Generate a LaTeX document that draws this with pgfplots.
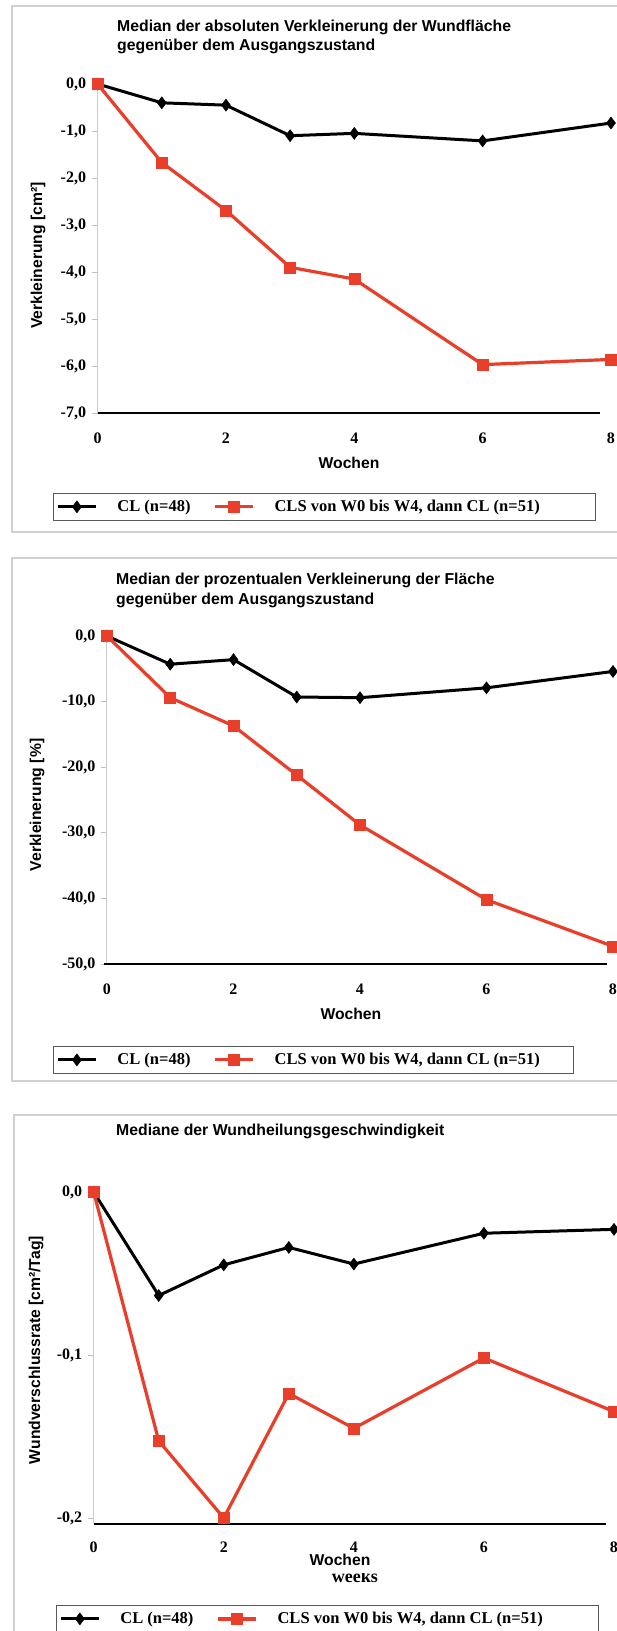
\documentclass[border=0pt]{standalone}
\usepackage{fontspec}
\setmainfont{Liberation Serif}
\newfontfamily\arialfont{Liberation Sans}
\usepackage{pgfplots}
\pgfplotsset{compat=1.18}
\definecolor{cred}{RGB}{232,62,42}
\definecolor{framegray}{RGB}{208,208,208}
\newcommand{\titlefont}{\arialfont\bfseries\fontsize{15.8}{19}\selectfont}

\pgfplotsset{
  panel/.style={
    scale only axis, clip=false,
    axis x line*=bottom, axis y line*=left,
    x axis line style={draw=none},
    y axis line style={draw=gray!40, line width=1pt, -},
    xmin=0, xmax=8, xtick={0,2,4,6,8}, xticklabels={0,2,4,6,8},
    xtick style={draw=none},
    ytick style={draw=gray!50, line width=0.8pt},
    tick align=outside, major tick length=6pt,
    ticklabel style={font=\bfseries\fontsize{16}{18}\selectfont},
    yticklabel style={xshift=-2pt},
    label style={font=\arialfont\bfseries\fontsize{15.7}{18}\selectfont},
    legend columns=2, legend cell align=left,
    legend style={draw=gray!70!black, line width=0.8pt, fill=white,
      inner xsep=3pt, inner ysep=7pt, nodes={inner sep=0pt},
      font=\bfseries\fontsize{16.5}{18}\selectfont,
      /tikz/every odd column/.append style={column sep=20pt}},
    legend image code/.code={\draw[mark repeat=2,mark phase=2,#1] plot coordinates {(0pt,0pt) (19pt,0pt) (38pt,0pt)};},
  },
  clline/.style={black, line width=3pt, mark=diamond*, mark size=6pt, mark options={solid, line width=0.5pt}},
  clsline/.style={cred, line width=3.2pt, mark=square*, mark size=5.5pt, mark options={solid, line width=0.5pt}},
}

\begin{document}
\begin{tikzpicture}
\useasboundingbox (0pt,0pt) rectangle (617pt,-1631pt);
\clip (0pt,0pt) rectangle (617pt,-1631pt);
\fill[white] (0pt,0pt) rectangle (617pt,-1631pt);

% panel frames
\draw[framegray, line width=1.5pt] (12pt,-6pt) rectangle (660pt,-532pt);
\draw[framegray, line width=1.5pt] (12pt,-558pt) rectangle (660pt,-1081pt);
\draw[framegray, line width=1.5pt] (14pt,-1115pt) rectangle (660pt,-1680pt);

% titles
\node[anchor=west, inner sep=0pt, font=\titlefont] at (117pt,-27pt) {Median der absoluten Verkleinerung der Wundfläche};
\node[anchor=west, inner sep=0pt, font=\titlefont] at (117pt,-46pt) {gegenüber dem Ausgangszustand};
\node[anchor=west, inner sep=0pt, font=\titlefont] at (116pt,-580.5pt) {Median der prozentualen Verkleinerung der Fläche};
\node[anchor=west, inner sep=0pt, font=\titlefont] at (116pt,-600pt) {gegenüber dem Ausgangszustand};
\node[anchor=west, inner sep=0pt, font=\titlefont] at (116pt,-1131pt) {Mediane der Wundheilungsgeschwindigkeit};

% ---------------- panel 1 ----------------
\begin{axis}[panel, at={(97.6pt,-413pt)}, anchor=south west,
  width=513.4pt, height=329pt, ymin=-7, ymax=0,
  ytick={-7,-6,-5,-4,-3,-2,-1,0},
  yticklabels={{-7,0},{-6,0},{-5,0},{-4,0},{-3,0},{-2,0},{-1,0},{0,0}},
  xticklabel style={yshift=-10pt},
  ylabel={Verkleinerung [cm²]},
  ylabel style={at={(axis description cs:-0.1161,0.4787)}, anchor=center},
  xlabel={Wochen},
  xlabel style={at={(axis description cs:0.4897,-0.151)}, anchor=center},
  legend style={at={(axis description cs:-0.0869,-0.243)}, anchor=north west},
]
\draw[black, line width=2.5pt] (axis cs:0,-7) -- (axis cs:7.83,-7);
\addplot[clline] coordinates {(0,0) (1,-0.40) (2,-0.45) (3,-1.10) (4,-1.05) (6,-1.21) (8,-0.83)};
\addlegendentry{\makebox[96pt][l]{CL (n=48)}}
\addplot[clsline] coordinates {(0,0) (1,-1.67) (2,-2.69) (3,-3.90) (4,-4.15) (6,-5.97) (8,-5.86)};
\addlegendentry{\makebox[318pt][l]{CLS von W0 bis W4, dann CL (n=51)}}
\end{axis}

% ---------------- panel 2 ----------------
\begin{axis}[panel, at={(107pt,-964pt)}, anchor=south west,
  width=506pt, height=328pt, ymin=-50, ymax=0,
  ytick={-50,-40,-30,-20,-10,0},
  yticklabels={{-50,0},{-40,0},{-30,0},{-20,0},{-10,0},{0,0}},
  xticklabel style={yshift=-10pt},
  ylabel={Verkleinerung [\%]},
  ylabel style={at={(axis description cs:-0.1383,0.4848)}, anchor=center},
  xlabel={Wochen},
  xlabel style={at={(axis description cs:0.482,-0.152)}, anchor=center},
  legend style={at={(axis description cs:-0.1067,-0.25)}, anchor=north west},
]
\draw[black, line width=2.5pt] (axis cs:-0.05,-50) -- (axis cs:7.9,-50);
\addplot[clline] coordinates {(0,0) (1,-4.3) (2,-3.6) (3,-9.3) (4,-9.4) (6,-7.9) (8,-5.4)};
\addlegendentry{\makebox[96pt][l]{CL (n=48)}}
\addplot[clsline] coordinates {(0,0) (1,-9.4) (2,-13.7) (3,-21.2) (4,-28.8) (6,-40.2) (8,-47.3)};
\addlegendentry{\makebox[296pt][l]{CLS von W0 bis W4, dann CL (n=51)}}
\end{axis}

% ---------------- panel 3 ----------------
\begin{axis}[panel, at={(93.7pt,-1524pt)}, anchor=south west,
  width=520.3pt, height=332pt, ymin=-0.2037, ymax=0,
  ytick={-0.2,-0.1,0},
  yticklabels={{-0,2},{-0,1},{0,0}},
  xticklabel style={yshift=-8.5pt},
  ylabel={Wundverschlussrate [cm²/Tag]},
  ylabel style={at={(axis description cs:-0.1109,0.524)}, anchor=center},
  legend style={at={(axis description cs:-0.0725,-0.244)}, anchor=north west},
]
\node[font=\bfseries\fontsize{18}{18}\selectfont, inner sep=0pt, anchor=base] at (axis description cs:0.502,-0.1747) {weeks};
\fill[white] ([yshift=-1pt]axis description cs:0.40,-0.128) rectangle ([yshift=1pt]axis description cs:0.60,-0.1503);
\node[font=\arialfont\bfseries\fontsize{15.7}{18}\selectfont, inner sep=1pt] at (axis description cs:0.4734,-0.1084) {Wochen};
\draw[black, line width=2.5pt] (axis cs:0,-0.2037) -- (axis cs:7.88,-0.2037);
\addplot[clline] coordinates {(0,0) (1,-0.0635) (2,-0.0447) (3,-0.034) (4,-0.0442) (6,-0.0253) (8,-0.0229)};
\addlegendentry{\makebox[96pt][l]{CL (n=48)}}
\addplot[clsline] coordinates {(0,0) (1,-0.1527) (2,-0.200) (3,-0.1236) (4,-0.145) (6,-0.1018) (8,-0.1347)};
\addlegendentry{\makebox[318pt][l]{CLS von W0 bis W4, dann CL (n=51)}}
\end{axis}
\end{tikzpicture}
\end{document}
